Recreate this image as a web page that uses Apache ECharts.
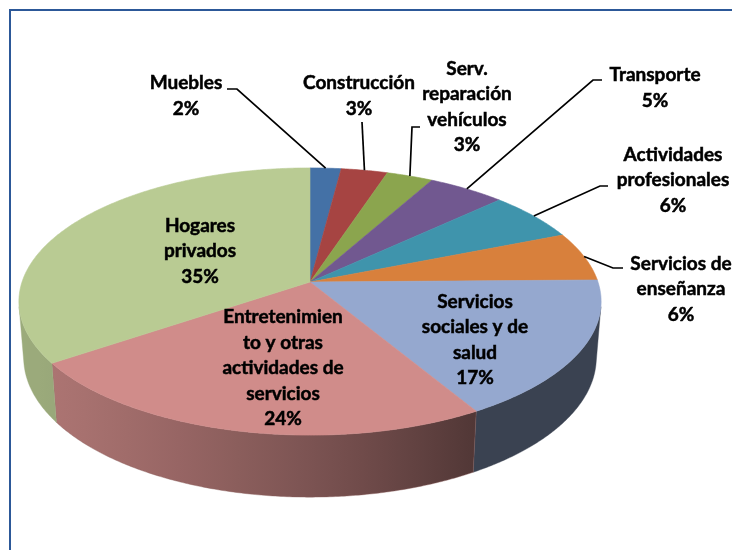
<!DOCTYPE html>
<html>
<head>
<meta charset="utf-8">
<script src="https://cdn.jsdelivr.net/npm/echarts@6/dist/echarts.min.js"></script>
<style>
    html, body { margin: 0; padding: 0; background: #fff; }
    #chart-container { width: 732px; height: 550px; }
</style>
</head>
<body>
<div id="chart-container"></div>
<script>
// data
const categories = [
    'Muebles',
    'Construcción',
    'Serv.\nreparación\nvehículos',
    'Transporte',
    'Actividades\nprofesionales',
    'Servicios de\nenseñanza',
    'Servicios\nsociales y de\nsalud',
    'Entretenimien\nto y otras\nactividades de\nservicios',
    'Hogares\nprivados'
];
const shares = [2, 3, 3, 5, 6, 6, 17, 24, 35];
const colors = ['#4471A6', '#A64442', '#8BA54E', '#715890', '#3F94AC', '#D8803C', '#95A8CF', '#D08C8A', '#B9CB93'];

// label layout: centre of text block, and leader line elbow (null = label sits on the slice)
const labelPos = [[186, 96], [359, 96], [467, 107], [655, 88], [673, 180], [681, 289], [475, 340], [283, 368], [200, 251]];
const leaderElbows = [
    [[227, 89], [237, 89]],
    [[362, 122]],
    [[420, 127], [412, 127]],
    [[602, 80], [593, 80]],
    [[608, 186], [600, 186]],
    [[623, 268], [613, 268]],
    null, null, null
];

// 3d projection of the pie (perspective, tilted 27 deg)
const CX = 310, CY = 282, K = 1756;
const R = 0.164, H = 0.0361, D = 1;
const tilt = 27 * Math.PI / 180;
const sa = Math.sin(tilt), ca = Math.cos(tilt);
const total = shares.reduce((s, v) => s + v, 0);
// outer wall faces the camera only for this range of angles
const wallFrom = Math.acos(-R / (D * ca)) * 180 / Math.PI;
const wallTo = 360 - wallFrom;

function proj(deg, rad, y) {
    const t = deg * Math.PI / 180;
    const px = R * rad * Math.sin(t);
    const pz = -R * rad * Math.cos(t);
    const yc = y * ca - pz * sa;
    const d = D - (y * sa + pz * ca);
    return [CX + K * px / d, CY - K * yc / d];
}

function shade(hex, f) {
    const n = parseInt(hex.slice(1), 16);
    const r = Math.round(((n >> 16) & 255) * f);
    const g = Math.round(((n >> 8) & 255) * f);
    const b = Math.round((n & 255) * f);
    return 'rgb(' + r + ',' + g + ',' + b + ')';
}

function wallLight(deg) {
    const k = Math.min(1, Math.max(0, (deg - 150) / 100));
    return 0.39 + 0.45 * Math.sin(k * Math.PI / 2);
}

function arc(a0, a1, rad, y) {
    const pts = [];
    const n = Math.max(2, Math.ceil((a1 - a0) / 0.5));
    for (let k = 0; k <= n; k++) pts.push(proj(a0 + (a1 - a0) * k / n, rad, y));
    return pts;
}

function renderItem(params, api) {
    const i = params.dataIndex;
    let before = 0;
    for (let j = 0; j < i; j++) before += shares[j];
    const a0 = before / total * 360;
    const a1 = (before + api.value(0)) / total * 360;
    const children = [];

    // top face
    const top = [proj(0, 0, 0)].concat(arc(a0, a1, 1, 0));
    children.push({
        type: 'polygon',
        shape: { points: top },
        style: { fill: colors[i], stroke: colors[i], lineWidth: 0.6 },
        z2: 5
    });

    // front wall
    const w0 = Math.max(a0, wallFrom), w1 = Math.min(a1, wallTo);
    if (w1 > w0) {
        const upper = arc(w0, w1, 1, 0);
        const lower = arc(w0, w1, 1, -H).reverse();
        const xl = proj(w1, 1, 0)[0], xr = proj(w0, 1, 0)[0];
        const stops = [];
        for (let k = 0; k <= 8; k++) {
            const t = w1 - (w1 - w0) * k / 8;
            const off = xr > xl ? (proj(t, 1, 0)[0] - xl) / (xr - xl) : 0;
            stops.push({ offset: Math.min(1, Math.max(0, off)), color: shade(colors[i], wallLight(t)) });
        }
        children.push({
            type: 'polygon',
            shape: { points: upper.concat(lower) },
            style: {
                fill: new echarts.graphic.LinearGradient(xl, 0, xr, 0, stops, true),
                stroke: shade(colors[i], wallLight((w0 + w1) / 2)),
                lineWidth: 0.4
            },
            z2: 3
        });
    }

    // leader line
    if (leaderElbows[i]) {
        const edge = proj((a0 + a1) / 2, 1, 0);
        children.push({
            type: 'polyline',
            shape: { points: leaderElbows[i].concat([edge]) },
            style: { stroke: '#000', lineWidth: 1.7, fill: null },
            z2: 15
        });
    }

    // label
    children.push({
        type: 'text',
        x: labelPos[i][0],
        y: labelPos[i][1],
        style: {
            text: categories[i] + '\n' + api.value(0) + '%',
            align: 'center',
            verticalAlign: 'middle',
            fontFamily: 'Lato',
            fontWeight: 'bold',
            fontSize: 19,
            lineHeight: 25.5,
            fill: '#000',
            stroke: '#000',
            lineWidth: 0.5
        },
        z2: 20
    });

    return { type: 'group', children: children };
}

const chart = echarts.init(document.getElementById('chart-container'));
chart.setOption({
    animation: false,
    backgroundColor: '#fff',
    graphic: [{
        type: 'rect',
        shape: { x: 10, y: 10, width: 760, height: 600 },
        style: { fill: null, stroke: '#2C5898', lineWidth: 2 }
    }],
    series: [{
        type: 'custom',
        coordinateSystem: 'none',
        renderItem: renderItem,
        data: shares.map((v) => [v])
    }]
});
</script>
</body>
</html>
